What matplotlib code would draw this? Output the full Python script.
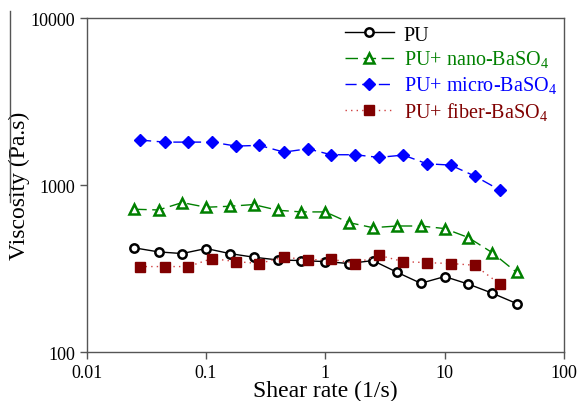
import numpy as np
import matplotlib.pyplot as plt
from matplotlib.lines import Line2D

plt.rcParams['font.family'] = ['Liberation Serif', 'DejaVu Serif']
plt.rcParams['mathtext.fontset'] = 'custom'
plt.rcParams['mathtext.rm'] = 'Liberation Serif'

# shear rates (1/s)
rate_a = [0.025, 0.04, 0.063, 0.1, 0.158, 0.25, 0.4, 0.63, 1.0, 1.58, 2.5, 4.0,
          6.3, 10.0, 15.8, 25.0, 40.0]
rate_b = [0.028, 0.045, 0.071, 0.112, 0.178, 0.28, 0.45, 0.71, 1.12, 1.78, 2.8,
          4.5, 7.1, 11.2, 17.8, 29.0]

# viscosity (Pa.s)
pu = [422, 399, 390, 418, 390, 371, 357, 354, 349, 340, 354, 301, 259, 284, 256, 226, 196]
nano = [718, 711, 787, 738, 748, 766, 708, 692, 692, 597, 557, 570, 570, 550, 486, 395, 301]
micro = [1861, 1810, 1810, 1810, 1714, 1730, 1577, 1651, 1521, 1521, 1466, 1514,
         1343, 1319, 1135, 935]
fiber = [326, 326, 326, 364, 349, 340, 372, 357, 361, 340, 381, 349, 344, 340, 332, 256]

labels = ['PU', 'PU+ nano-BaSO$_4$', 'PU+ micro-BaSO$_4$', 'PU+ fiber-BaSO$_4$']
colors = ['black', '#008000', '#0000FF', '#800000']

fig = plt.figure(figsize=(5.8, 4.02), dpi=100)
ax = fig.add_axes([0.1495, 0.121, 0.823, 0.8317])

ax.plot(rate_a, pu, color=colors[0], lw=1, marker='o', ms=6, mfc='white',
        mec='black', mew=1.8, label=labels[0])
ax.plot(rate_a, nano, color=colors[1], lw=1, ls=(0, (9, 4)), marker='^', ms=6.5,
        mfc='white', mec=colors[1], mew=1.8, label=labels[1])
ax.plot(rate_b, micro, color=colors[2], lw=1, ls=(0, (8, 4)), marker='D', ms=6.5,
        mfc=colors[2], mec=colors[2], label=labels[2])
ax.plot(rate_b, fiber, color='#d04040', lw=1, ls=(0, (1, 3)), marker='s', ms=6.5,
        mfc=colors[3], mec=colors[3], label=labels[3])

ax.set_xscale('log')
ax.set_yscale('log')
ax.set_xlim(0.01, 100)
ax.set_ylim(100, 10000)
ax.set_xticks([0.01, 0.1, 1, 10, 100])
ax.set_xticklabels(['0.01', '0.1', '1', '10', '100'])
ax.set_yticks([100, 1000, 10000])
ax.set_yticklabels(['100', '1000', '10000'])
ax.minorticks_off()
ax.tick_params(direction='out', length=5, width=1, color='#555555',
               labelsize=13, top=False, right=False)
for s in ax.spines.values():
    s.set_color('#555555')
    s.set_linewidth(1)

ax.set_xlabel('Shear rate (1/s)', fontsize=17, labelpad=-1)
ax.set_ylabel('Viscosity (Pa.s)', fontsize=17, labelpad=0)

leg = ax.legend(loc='upper left', bbox_to_anchor=(0.512, 1.02), frameon=False,
                fontsize=14.5, handlelength=2.4, handletextpad=0.5,
                labelspacing=0.22, borderaxespad=0.3)
for t, c in zip(leg.get_texts(), colors):
    t.set_color(c)

# stray edge line from the source image
fig.add_artist(Line2D([10 / 580, 10 / 580], [1 - 12 / 402, 1 - 203 / 402],
                      color='#555555', lw=1))

fig.savefig('out.png', dpi=100)
